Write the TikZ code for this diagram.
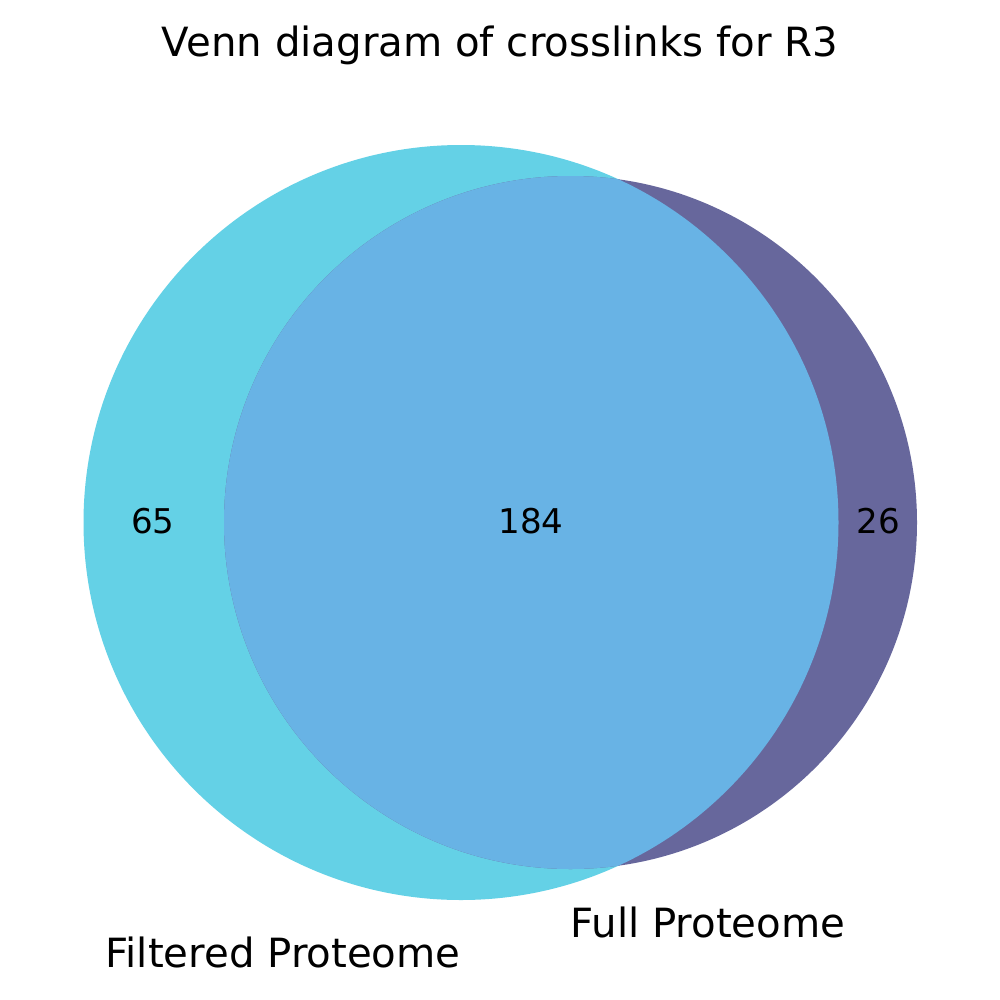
\documentclass[tikz,border=0pt]{standalone}
\usepackage{fontspec}
\setmainfont{DejaVu Sans}
\definecolor{cA}{HTML}{64D1E6}
\definecolor{cB}{HTML}{67679C}
\definecolor{cAB}{HTML}{68B3E5}
\begin{document}
\begin{tikzpicture}[x=0.01cm,y=-0.01cm,
  lbl/.style={font=\fontsize{11.45pt}{13pt}\selectfont,anchor=base,inner sep=0pt},
  num/.style={font=\fontsize{9.7pt}{12pt}\selectfont,anchor=base,inner sep=0pt}]
\useasboundingbox[fill=white] (0,0) rectangle (1000,1000);
% circles
\coordinate (ca) at (461,522.5);
\coordinate (cb) at (570.5,522.5);
\fill[cA] (ca) circle[radius=377.5];
\fill[cB] (cb) circle[radius=346.5];
\begin{scope}
  \clip (ca) circle[radius=377.5];
  \fill[cAB] (cb) circle[radius=346.5];
\end{scope}
\node[lbl] (title) at (500,57) {Venn diagram of crosslinks for R3};
\node[lbl] (la) at (283,967) {Filtered Proteome};
\node[lbl] (lb) at (708,937) {Full Proteome};
\node[num] (n10) at (153,533) {65};
\node[num] (n11) at (531,533) {184};
\node[num] (n01) at (878,533) {26};
\end{tikzpicture}
\end{document}
